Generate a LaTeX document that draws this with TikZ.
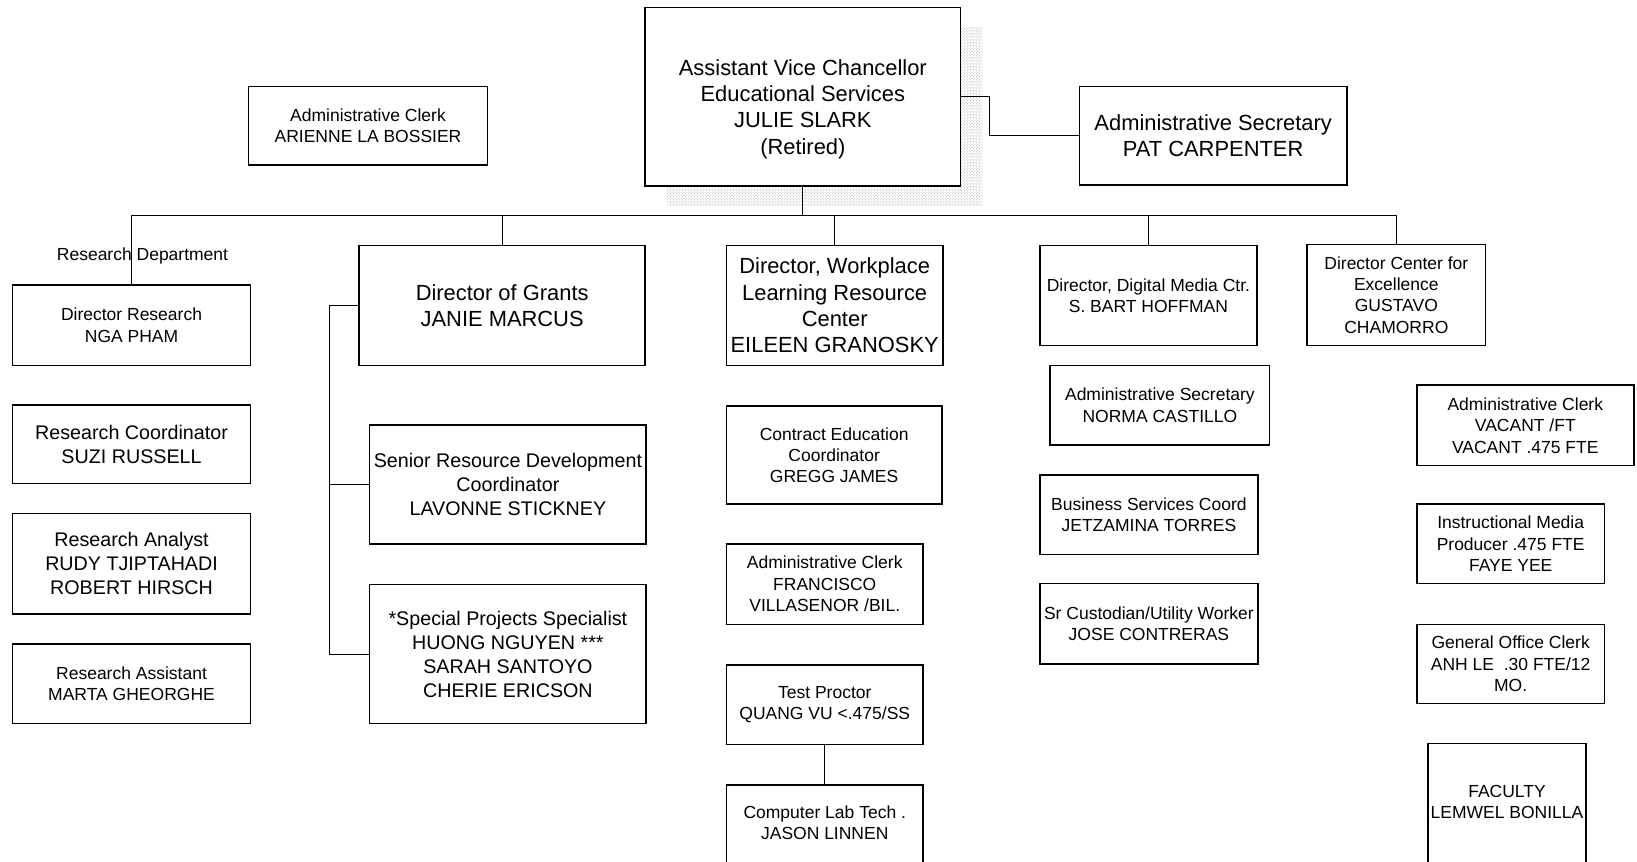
\documentclass[tikz,border=0pt]{standalone}
\usepackage{fontspec}
\setmainfont{Liberation Sans}
\usetikzlibrary{patterns}

% type sizes used on the chart
\newcommand\fsmall{\fontsize{17.5pt}{21.4pt}\selectfont}
\newcommand\fmed{\fontsize{19.7pt}{24pt}\selectfont}
\newcommand\flarge{\fontsize{21.9pt}{26.4pt}\selectfont}

% \orgbox{name}{style}{x1}{y1}{x2}{y2}{text}: a box given by its corners
\newcommand\orgbox[7]{%
  \node[orgnode,#2,minimum width={(#5-#3)*1.044pt},minimum height={(#6-#4)*1.044pt}]
    (#1) at ({(#3+#5)/2},{(#4+#6)/2}) {#7};}

\tikzset{
  orgnode/.style={draw=black, line width=1.6pt, fill=white, align=center,
                  inner sep=1pt, text=black},
  small/.style={font=\fsmall},
  med/.style={font=\fmed},
  large/.style={font=\flarge},
  plain/.style={align=center, inner sep=0pt, text=black},
  link/.style={draw=black, line width=1.1pt},
}

\begin{document}
\begin{tikzpicture}[x=1.044pt, y=-1.044pt]
\useasboundingbox (0,0) rectangle (1568,825);
\clip (0,0) rectangle (1568,825);
\fill[white] (0,0) rectangle (1568,825);

% stippled shadow behind the top box
\fill[pattern=crosshatch dots, pattern color=black!35] (639,26) rectangle (941,197);

% top level
\orgbox{avc}{large}{618}{7}{920}{178}{}
\node[plain, font=\flarge] (avctext) at (769,104.5)
  {Assistant Vice Chancellor\\Educational Services\\JULIE SLARK\\(Retired)};
\orgbox{clerkA}{small}{238}{83}{467}{158}{Administrative Clerk\\ARIENNE LA BOSSIER}
\orgbox{secP}{large}{1034}{83}{1290}{177}{Administrative Secretary\\PAT CARPENTER}

% research department
\orgbox{dirR}{small}{12}{273}{240}{350}{Director Research\\NGA PHAM}
\orgbox{resC}{med}{12}{388}{240}{463}{Research Coordinator\\SUZI RUSSELL}
\orgbox{resAn}{med}{12}{492}{240}{588}{Research Analyst\\RUDY TJIPTAHADI\\ROBERT HIRSCH}
\orgbox{resAs}{small}{12}{617}{240}{693}{Research Assistant\\MARTA GHEORGHE}

% grants
\orgbox{grants}{large}{344}{235}{618}{350}{Director of Grants\\JANIE MARCUS}
\orgbox{srd}{med}{354}{407}{619}{521}{Senior Resource Development\\Coordinator\\LAVONNE STICKNEY}
\orgbox{spec}{med}{354}{560}{619}{693}{*Special Projects Specialist\\HUONG NGUYEN ***\\SARAH SANTOYO\\CHERIE ERICSON}

% workplace learning resource center
\orgbox{wlrc}{large}{696}{235}{903}{350}{Director, Workplace\\Learning Resource\\Center\\EILEEN GRANOSKY}
\orgbox{ced}{small}{696}{389}{902}{483}{Contract Education\\Coordinator\\GREGG JAMES}
\orgbox{fran}{small}{696}{521}{884}{598}{Administrative Clerk\\FRANCISCO\\VILLASENOR /BIL.}
\orgbox{test}{small}{696}{637}{884}{713}{Test Proctor\\QUANG VU <.475/SS}
\orgbox{lab}{small}{696}{752}{884}{834}{}
\node[plain, font=\fsmall] (labtext) at (790,788) {Computer Lab Tech .\\JASON LINNEN};

% digital media center
\orgbox{dmc}{small}{996}{235}{1204}{331}{Director, Digital Media Ctr.\\S. BART HOFFMAN}
\orgbox{norma}{small}{1006}{350}{1216}{426}{Administrative Secretary\\NORMA CASTILLO}
\orgbox{busc}{small}{996}{455}{1205}{531}{Business Services Coord\\JETZAMINA TORRES}
\orgbox{cust}{small}{996}{559}{1205}{636}{Sr Custodian/Utility Worker\\JOSE CONTRERAS}

% center for excellence
\orgbox{cfe}{small}{1252}{234}{1423}{331}{Director Center for\\Excellence\\GUSTAVO\\CHAMORRO}
\orgbox{vac}{small}{1357}{369}{1565}{446}{Administrative Clerk\\VACANT /FT\\VACANT .475 FTE}
\orgbox{imp}{small}{1357}{483}{1537}{559}{Instructional Media\\Producer .475 FTE\\FAYE YEE}
\orgbox{goc}{small}{1357}{598}{1537}{674}{General Office Clerk\\ANH LE\ \ .30 FTE/12\\MO.}
\orgbox{fac}{small}{1368}{712}{1519}{834}{}
\node[plain, font=\fsmall] (factext) at (1443.5,768) {FACULTY\\LEMWEL BONILLA};

% connectors
\coordinate (busy) at (0,206);
\draw[link] (avc.south) -- (avc.south |- busy);
\draw[link] (dirR.north |- busy) -- (cfe.north |- busy);
\foreach \n in {dirR,grants,wlrc,dmc,cfe}
  \draw[link] (\n.north |- busy) -- (\n.north);

\coordinate (secx) at (948,0);
\draw[link] (avc.east) -- (secx |- avc.east) |- (secP.west);

\coordinate (gbr) at (316,0);
\draw[link] (grants.west) -- (gbr |- grants.west) |- (spec.west);
\draw[link] (gbr |- srd.west) -- (srd.west);

\draw[link] (test.south) -- (lab.north);

% department caption, crossed by the drop line
\node[plain, font=\fsmall] (resdept) at (136.5,245) {Research Department};
\end{tikzpicture}
\end{document}
